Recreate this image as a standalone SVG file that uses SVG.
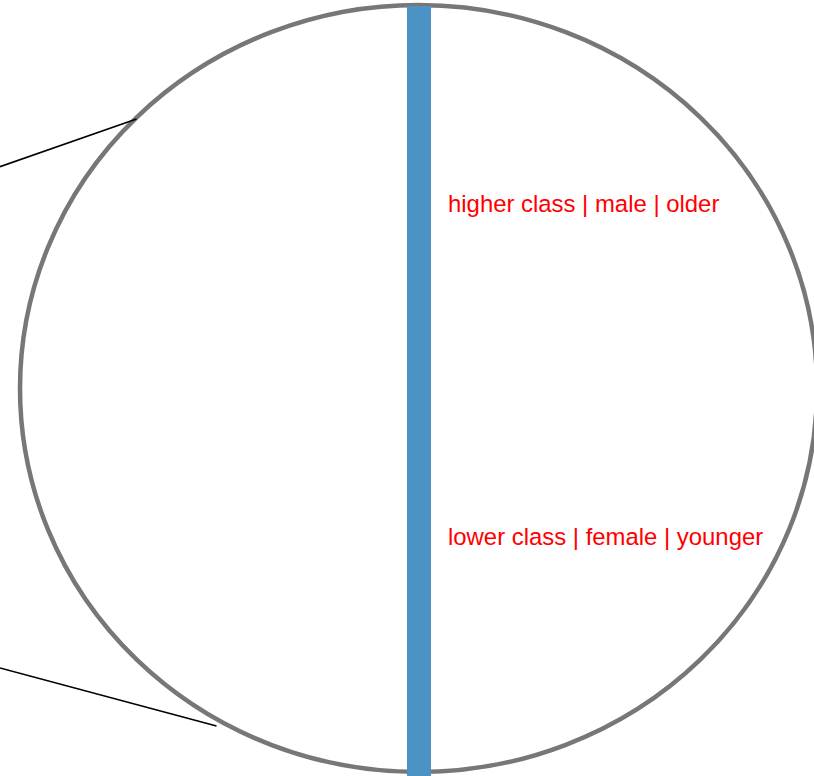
<svg xmlns="http://www.w3.org/2000/svg" width="814" height="776" viewBox="0 0 814 776">
<style>
.lbl{font-family:"Liberation Sans",Arial,sans-serif;font-size:23.9px;fill:#ff0000}
.conn{stroke:#000;stroke-width:1.6;fill:none}
</style>
<rect width="814" height="776" fill="#fff"/>
<g id="circle">
<ellipse cx="418.5" cy="388.5" rx="398.5" ry="383.5" fill="#fff" stroke="#777" stroke-width="4.5"/>
</g>
<g id="bar">
<rect x="407" y="6" width="24" height="770" fill="#4a93c4"/>
</g>
<g id="connectors">
<line class="conn" x1="0" y1="166.7" x2="136.5" y2="119"/>
<line class="conn" x1="0" y1="668" x2="216.5" y2="726"/>
</g>
<g id="label-top"><text class="lbl" x="448" y="212">higher class | male | older</text></g>
<g id="label-bottom"><text class="lbl" x="448" y="545">lower class | female | younger</text></g>
</svg>
